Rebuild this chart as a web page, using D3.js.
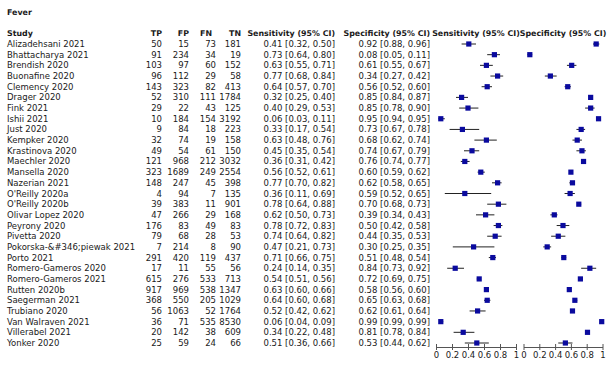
<!DOCTYPE html>
<html><head><meta charset="utf-8">
<script src="https://cdn.jsdelivr.net/npm/d3@7"></script>
<style>
body{margin:0;background:#fff;}
text{font-family:"DejaVu Sans",sans-serif;fill:#1a1a1a;}
</style></head>
<body><svg id="c" width="610" height="365"></svg>
<script>
const studies=["Alizadehsani 2021","Bhattacharya 2021","Brendish 2020","Buonafine 2020","Clemency 2020","Drager 2020","Fink 2021","Ishii 2021","Just 2020","Kempker 2020","Krastinova 2020","Maechler 2020","Mansella 2020","Nazerian 2021","O'Reilly 2020a","O'Reilly 2020b","Olivar Lopez 2020","Peyrony 2020","Pivetta 2020","Pokorska-&#346;piewak 2021","Porto 2021","Romero-Gameros 2020","Romero-Gameros 2021","Rutten 2020b","Saegerman 2021","Trubiano 2020","Van Walraven 2021","Villerabel 2021","Yonker 2020"];
const tp=[50,91,103,96,143,52,29,10,9,32,49,121,323,148,4,39,47,176,79,7,291,17,615,917,368,56,36,20,25];
const fp=[15,234,97,112,323,310,22,184,84,74,54,968,1689,247,94,383,266,83,68,214,420,11,276,969,550,1063,71,142,59];
const fn=[73,34,60,29,82,111,43,154,18,19,61,212,249,45,7,11,29,49,28,8,119,55,533,538,205,52,535,38,24];
const tn=[181,19,152,58,413,1784,125,3192,223,158,150,3032,2554,398,135,901,168,83,53,90,437,56,713,1347,1029,1764,8530,609,66];
const sens=[0.41,0.73,0.63,0.77,0.64,0.32,0.40,0.06,0.33,0.63,0.45,0.36,0.56,0.77,0.36,0.78,0.62,0.78,0.74,0.47,0.71,0.24,0.54,0.63,0.64,0.52,0.06,0.34,0.51];
const sensLo=[0.32,0.64,0.55,0.68,0.57,0.25,0.29,0.03,0.17,0.48,0.35,0.31,0.52,0.70,0.11,0.64,0.50,0.72,0.64,0.21,0.66,0.14,0.51,0.60,0.60,0.42,0.04,0.22,0.36];
const sensHi=[0.50,0.80,0.71,0.84,0.70,0.40,0.53,0.11,0.54,0.76,0.54,0.42,0.61,0.82,0.69,0.88,0.73,0.83,0.82,0.73,0.75,0.35,0.56,0.66,0.68,0.62,0.09,0.48,0.66];
const spec=[0.92,0.08,0.61,0.34,0.56,0.85,0.85,0.95,0.73,0.68,0.74,0.76,0.60,0.62,0.59,0.70,0.39,0.50,0.44,0.30,0.51,0.84,0.72,0.58,0.65,0.62,0.99,0.81,0.53];
const specLo=[0.88,0.05,0.55,0.27,0.52,0.84,0.78,0.94,0.67,0.62,0.67,0.74,0.59,0.58,0.52,0.68,0.34,0.42,0.35,0.25,0.48,0.73,0.69,0.56,0.63,0.61,0.99,0.78,0.44];
const specHi=[0.96,0.11,0.67,0.42,0.60,0.87,0.90,0.95,0.78,0.74,0.79,0.77,0.62,0.65,0.65,0.73,0.43,0.58,0.53,0.35,0.54,0.92,0.75,0.60,0.68,0.64,0.99,0.84,0.62];
const axisTicks=[0,0.2,0.4,0.6,0.8,1];
const title="Fever";

const svg=d3.select("#c");
const FS=8.5, HS=7.9;
const y=d3.scalePoint().domain(d3.range(studies.length)).range([44,343]);
const xSens=d3.scaleLinear().domain([0,1]).range([436,516]);
const xSpec=d3.scaleLinear().domain([0,1]).range([523.5,602.5]);
const f2=d3.format(".2f");

svg.append("text").attr("x",7).attr("y",15).attr("font-size",HS).attr("font-weight","bold").attr("fill","#333").text(title);

const headers=[
 {t:"Study",x:7,a:"start"},{t:"TP",x:162,a:"end"},{t:"FP",x:189,a:"end"},{t:"FN",x:212,a:"end"},{t:"TN",x:241,a:"end"},
 {t:"Sensitivity (95% CI)",x:335,a:"end"},{t:"Specificity (95% CI)",x:430,a:"end"},
 {t:"Sensitivity (95% CI)",x:476,a:"middle"},{t:"Specificity (95% CI)",x:563,a:"middle"}];
svg.selectAll("text.h").data(headers).join("text").attr("class","h")
 .attr("x",d=>d.x).attr("y",36).attr("text-anchor",d=>d.a).attr("font-size",HS).attr("font-weight","bold").attr("fill","#333").text(d=>d.t);

const idx=d3.range(studies.length);
const cols=[
 {x:7,a:"start",v:i=>studies[i]},
 {x:162,a:"end",v:i=>tp[i]},{x:189,a:"end",v:i=>fp[i]},{x:216,a:"end",v:i=>fn[i]},{x:241,a:"end",v:i=>tn[i]},
 {x:335,a:"end",v:i=>`${f2(sens[i])} [${f2(sensLo[i])}, ${f2(sensHi[i])}]`},
 {x:430,a:"end",v:i=>`${f2(spec[i])} [${f2(specLo[i])}, ${f2(specHi[i])}]`}];
cols.forEach(c=>{
 svg.append("g").selectAll("text").data(idx).join("text")
  .attr("x",c.x).attr("y",i=>y(i)+3).attr("text-anchor",c.a).attr("font-size",FS).text(c.v);
});

function panel(x,val,lo,hi){
 const g=svg.append("g");
 g.selectAll("line.ci").data(idx).join("line").attr("class","ci")
  .attr("x1",i=>x(lo[i])).attr("x2",i=>x(hi[i])).attr("y1",i=>y(i)).attr("y2",i=>y(i))
  .attr("stroke","#222").attr("stroke-width",1);
 g.selectAll("rect").data(idx).join("rect")
  .attr("x",i=>x(val[i])-2.6).attr("y",i=>y(i)-2.6).attr("width",5.2).attr("height",5.2)
  .attr("fill","#0a0a9e");
 const ax=svg.append("g").attr("transform","translate(0,347)")
  .call(d3.axisBottom(x).tickValues(axisTicks).tickFormat(d3.format("~g")).tickSize(3).tickSizeOuter(0).tickPadding(2));
 ax.selectAll(".tick line").attr("y1",-3).attr("stroke","#555");
 ax.select(".domain").attr("stroke","#555");
 ax.selectAll("text").attr("font-size",FS).attr("font-family","DejaVu Sans").attr("fill","#1a1a1a");
}
panel(xSens,sens,sensLo,sensHi);
panel(xSpec,spec,specLo,specHi);
</script></body></html>
